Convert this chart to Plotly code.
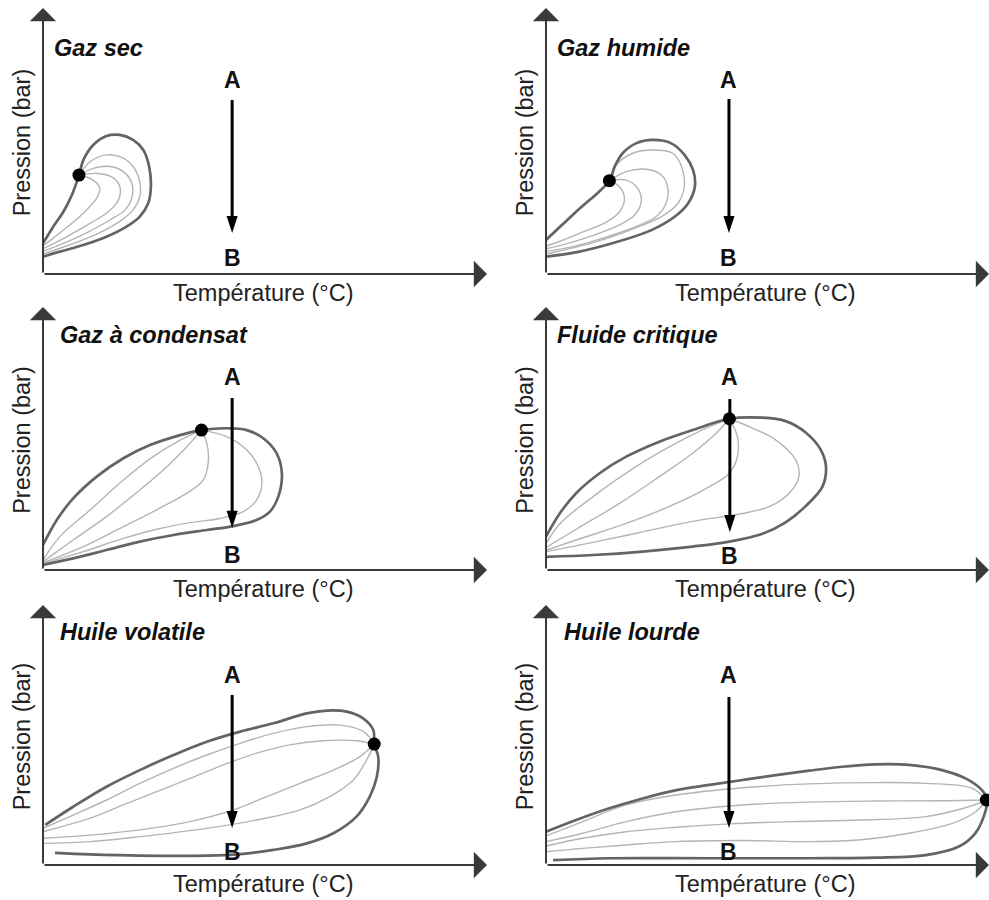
import plotly.graph_objects as go

# ------------------------------------------------------------------
# Data (schematic, arbitrary units: temperature 0-100, pressure 0-100)
# ------------------------------------------------------------------
panel_titles = ["Gaz sec", "Gaz humide", "Gaz à condensat",
                "Fluide critique", "Huile volatile", "Huile lourde"]
x_label = "Température (°C)"
y_label = "Pression (bar)"

# --- Gaz sec ---
gs_env = [(0, 11.5), (2.3, 17.8), (4.6, 23.4), (6.5, 29.7), (8.1, 37.2), (9.1, 42.9),
          (11.3, 48.5), (14.3, 51.9), (17.3, 52.3), (20.3, 50.4), (22.6, 46.6), (23.9, 40.4),
          (24.3, 32.8), (23.7, 26.6), (21.8, 21.6), (18.8, 17.8), (14.3, 14.0), (9.1, 10.9),
          (3.8, 8.4), (0, 6.5)]
gs_q1 = [(8.1, 37.2), (10.6, 42.2), (14.0, 44.7), (17.3, 44.1), (20.0, 41.0), (21.7, 35.3),
         (21.8, 29.1), (20.3, 24.1), (17.3, 19.8), (12.1, 15.0), (6.1, 11.0), (0, 7.5)]
gs_q2 = [(8.1, 37.2), (11.3, 39.7), (15.1, 40.4), (18.1, 38.5), (20.0, 34.1), (20.0, 28.5),
         (18.5, 24.1), (15.1, 20.3), (9.8, 15.5), (4.6, 11.5), (0, 8.5)]
gs_q3 = [(8.1, 37.2), (12.1, 37.8), (15.5, 36.5), (17.3, 32.8), (17.0, 27.8), (14.7, 23.4),
         (10.6, 19.0), (5.3, 14.0), (0, 9.5)]
gs_q4 = [(8.1, 37.2), (11.3, 35.3), (12.8, 32.2), (12.1, 28.5), (9.8, 24.1), (6.1, 18.5),
         (2.3, 13.5), (0, 10.5)]
gs_crit = (8.1, 37.2)

# --- Gaz humide ---
gh_env = [(0, 12.8), (6.8, 23.4), (14.3, 35.1), (15.5, 40.4), (17.3, 45.4), (20.3, 49.1),
          (24.1, 50.4), (28.3, 49.1), (31.3, 44.7), (33.2, 39.1), (33.6, 32.8), (32.1, 26.6),
          (29.1, 21.6), (23.8, 16.5), (16.3, 12.2), (7.0, 8.2), (0, 6.5)]
gh_q1 = [(14.3, 35.1), (16.2, 41.6), (19.6, 45.4), (24.1, 46.6), (28.6, 45.4), (30.6, 40.4),
         (31.2, 32.8), (29.8, 26.6), (26.1, 21.6), (20.0, 17.2), (11.0, 12.0), (0, 7.5)]
gh_q2 = [(14.3, 35.1), (18.1, 38.5), (22.6, 39.4), (26.0, 37.3), (27.5, 32.3), (27.1, 26.6),
         (24.9, 21.6), (20.3, 17.8), (12.8, 13.5), (6.1, 10.3), (0, 8.5)]
gh_q3 = [(14.3, 35.1), (18.1, 35.3), (20.7, 32.2), (21.5, 27.2), (20.0, 22.2), (16.6, 18.5),
         (10.6, 14.5), (4.6, 11.3), (0, 9.5)]
gh_q4 = [(14.3, 35.1), (16.6, 32.8), (17.7, 28.4), (16.6, 23.4), (13.6, 19.5), (8.3, 15.8),
         (3.1, 12.3), (0, 10.5)]
gh_crit = (14.3, 35.1)

# --- Gaz à condensat ---
gac_env = [(0, 9.5), (3.1, 19.0), (6.8, 27.2), (12.1, 35.5), (18.1, 42.5), (24.1, 47.5),
           (30.9, 51.3), (35.7, 53.2), (41.4, 53.9), (45.9, 53.2), (49.6, 50.1), (52.6, 44.4),
           (53.8, 36.8), (53.0, 27.9), (51.1, 22.2), (48.1, 19.0), (42.9, 16.7), (36.9, 15.2),
           (29.4, 13.3), (21.8, 10.8), (14.3, 7.6), (6.8, 4.4), (0, 1.9)]
gac_q1 = [(35.7, 53.2), (41.4, 50.7), (45.9, 45.6), (48.5, 39.3), (49.3, 33.0), (48.1, 26.6),
          (45.1, 22.2), (39.9, 19.6), (33.1, 18.0), (25.6, 15.5), (18.1, 12.0), (9.1, 7.0), (0, 2.5)]
gac_q2 = [(35.7, 53.2), (36.9, 48.2), (37.2, 40.6), (36.1, 34.2), (32.4, 29.2), (25.6, 22.9),
          (18.1, 16.5), (9.1, 8.9), (0, 2.8)]
gac_q3 = [(35.7, 53.2), (32.4, 46.9), (27.9, 39.3), (21.8, 30.4), (14.3, 20.3), (6.8, 11.4), (0, 3.2)]
gac_q4 = [(35.7, 53.2), (30.9, 49.4), (24.8, 43.1), (18.1, 34.2), (10.6, 22.8), (3.8, 12.7), (0, 3.8)]
gac_crit = (35.7, 53.2)

# --- Fluide critique ---
fc_env = [(0, 12.7), (3.1, 21.5), (6.8, 29.2), (12.1, 36.8), (18.1, 43.1), (25.6, 48.8),
          (33.1, 53.2), (41.4, 57.5), (48.9, 57.9), (54.1, 56.6), (58.6, 52.3), (62.0, 45.8),
          (63.2, 39.4), (62.4, 31.7), (58.5, 24.1), (54.0, 18.0), (48.9, 13.8), (41.4, 10.8),
          (33.1, 8.9), (21.8, 7.0), (10.6, 5.7), (0, 5.0)]
fc_q1 = [(41.4, 57.5), (45.9, 54.5), (51.9, 49.4), (56.4, 41.8), (57.1, 35.5), (54.9, 29.2),
         (50.4, 24.1), (44.4, 21.5), (33.1, 18.5), (21.8, 14.5), (10.6, 10.5), (0, 7.0)]
fc_q2 = [(41.4, 57.5), (43.2, 50.7), (43.2, 43.1), (41.4, 36.8), (36.9, 31.7), (29.4, 25.3),
         (18.1, 17.7), (6.8, 11.4), (0, 7.5)]
fc_q3 = [(41.4, 57.5), (38.4, 52.0), (33.1, 44.4), (25.6, 35.5), (16.6, 25.3), (6.8, 15.5), (0, 8.5)]
fc_q4 = [(41.4, 57.5), (36.9, 54.5), (29.4, 48.2), (20.3, 39.3), (10.6, 27.9), (3.1, 17.5), (0, 10.0)]
fc_crit = (41.4, 57.5)

# --- Huile volatile ---
hv_env = [(0.5, 15.4), (6.8, 22.4), (14.3, 30.1), (21.8, 36.5), (29.4, 42.3), (36.9, 47.4),
          (44.4, 51.3), (51.9, 54.5), (59.4, 58.3), (63.9, 59.4), (68.4, 59.0), (72.1, 56.4),
          (74.4, 51.9), (74.6, 46.5), (75.5, 41.7), (75.2, 34.0), (73.6, 26.3), (70.6, 18.6),
          (65.4, 12.2), (59.4, 8.3), (51.9, 5.8), (44.4, 4.2), (36.9, 3.6), (21.8, 3.6),
          (10.6, 4.1), (2.7, 4.7)]
hv_q1 = [(74.6, 46.5), (72.2, 51.3), (66.9, 53.8), (59.4, 53.2), (51.9, 50.6), (44.4, 46.8),
         (36.9, 42.3), (29.4, 37.2), (21.8, 31.4), (14.3, 25.0), (6.8, 19.2), (0, 14.1)]
hv_q2 = [(74.6, 46.5), (70.7, 47.8), (63.1, 47.8), (55.6, 46.2), (48.1, 43.0), (40.6, 38.5),
         (33.1, 33.3), (25.6, 28.2), (18.1, 23.1), (10.6, 18.0), (0, 12.8)]
hv_q3 = [(74.6, 46.5), (71.4, 41.7), (65.4, 36.5), (57.9, 31.4), (50.4, 26.3), (42.9, 21.2),
         (33.1, 16.7), (21.8, 13.5), (10.6, 11.5), (0, 10.3)]
hv_q4 = [(74.6, 46.5), (72.9, 40.4), (69.9, 32.7), (64.6, 26.3), (57.9, 21.2), (48.1, 17.3),
         (36.9, 14.1), (21.8, 10.9), (10.6, 9.0), (0, 8.3)]
hv_crit = (74.6, 46.5)

# --- Huile lourde ---
hl_env = [(0, 12.8), (6.8, 17.3), (14.3, 21.8), (21.8, 25.6), (29.4, 28.8), (36.9, 30.8),
          (44.4, 32.7), (51.9, 34.6), (59.4, 36.3), (66.9, 37.8), (74.4, 38.7), (81.9, 38.5),
          (89.4, 36.5), (94.7, 33.3), (98.4, 28.8), (99.6, 25.0), (98.8, 18.6), (96.9, 12.2),
          (93.2, 7.1), (85.7, 3.8), (74.4, 2.8), (59.4, 2.6), (36.9, 2.6), (14.3, 2.6), (1.6, 1.9)]
hl_q1 = [(99.4, 25.0), (96.2, 29.5), (85.7, 31.4), (74.4, 31.7), (59.4, 31.2), (44.4, 29.7),
         (29.4, 26.9), (18.1, 23.1), (8.3, 16.7), (0, 11.2)]
hl_q2 = [(99.4, 25.0), (89.4, 24.7), (74.4, 24.6), (59.4, 24.2), (44.4, 23.1), (29.4, 20.5),
         (18.1, 16.7), (8.3, 12.2), (0, 9.0)]
hl_q3 = [(99.4, 25.0), (95.4, 22.4), (85.7, 18.6), (70.6, 17.3), (55.6, 16.7), (41.4, 15.8),
         (29.4, 14.5), (18.1, 12.8), (8.3, 10.3), (0, 7.3)]
hl_q4 = [(99.4, 25.0), (97.0, 20.5), (91.7, 16.0), (81.9, 12.2), (70.6, 9.6), (59.4, 9.0),
         (44.4, 9.4), (29.4, 9.0), (18.1, 7.7), (8.3, 6.4), (0, 5.1)]
hl_crit = (99.4, 25.0)

# Isothermal depletion path A -> B: temperature, P(A), P(B)
path_T = [42.6, 41.3, 42.6, 41.5, 42.6, 41.3]
path_P_start = [65.4, 65.8, 65.4, 65.0, 65.4, 64.6]
path_P_end = [15.4, 15.4, 16.0, 14.4, 14.2, 14.2]
label_A_P = [72.9, 72.9, 73.4, 73.4, 73.1, 73.1]
label_B_P = [6.0, 6.0, 5.7, 5.3, 5.0, 5.0]
title_T = [2.0, 2.0, 3.4, 2.0, 3.4, 3.6]
title_P = [85.0, 85.0, 89.4, 89.4, 89.6, 89.6]

envelopes = [gs_env, gh_env, gac_env, fc_env, hv_env, hl_env]
quality_lines = [[gs_q1, gs_q2, gs_q3, gs_q4], [gh_q1, gh_q2, gh_q3, gh_q4],
                 [gac_q1, gac_q2, gac_q3, gac_q4], [fc_q1, fc_q2, fc_q3, fc_q4],
                 [hv_q1, hv_q2, hv_q3, hv_q4], [hl_q1, hl_q2, hl_q3, hl_q4]]
crit_points = [gs_crit, gh_crit, gac_crit, fc_crit, hv_crit, hl_crit]

# ------------------------------------------------------------------
# Layout / styling  (body margin removed -> figure fills the 989 x 900 page)
# ------------------------------------------------------------------
W, H = 989, 900
col_x = [(43 / W, 487 / W), (546 / W, 1.0)]
row_y = [(1 - 274 / H, 1 - 8 / H), (1 - 570 / H, 1 - 307 / H), (1 - 865 / H, 1 - 605 / H)]

FONT = "Liberation Sans, Arial, Helvetica, sans-serif"
AXIS_COLOR = "#3a3a3a"
ENV_COLOR = "#646464"
Q_COLOR = "#b4b4b4"

fig = go.Figure()
layout_axes = {}
annotations = []

for i in range(6):
    r, c = divmod(i, 2)
    sfx = "" if i == 0 else str(i + 1)
    xa, ya = "x" + sfx, "y" + sfx
    layout_axes["xaxis" + sfx] = dict(domain=list(col_x[c]), range=[0, 100], visible=False,
                                      anchor=ya, fixedrange=True)
    layout_axes["yaxis" + sfx] = dict(domain=list(row_y[r]), range=[0, 100], visible=False,
                                      anchor=xa, fixedrange=True)

    # quality lines
    for q in quality_lines[i]:
        fig.add_trace(go.Scatter(x=[p[0] for p in q], y=[p[1] for p in q], mode="lines",
                                 line=dict(color=Q_COLOR, width=1.4, shape="spline", smoothing=1.0),
                                 xaxis=xa, yaxis=ya, hoverinfo="skip", showlegend=False))
    # phase envelope
    env = envelopes[i]
    fig.add_trace(go.Scatter(x=[p[0] for p in env], y=[p[1] for p in env], mode="lines",
                             line=dict(color=ENV_COLOR, width=2.7, shape="spline", smoothing=1.0),
                             xaxis=xa, yaxis=ya, hoverinfo="skip", showlegend=False))
    # A -> B path (shaft + arrow head)
    T = path_T[i]
    fig.add_trace(go.Scatter(x=[T, T], y=[path_P_start[i], path_P_end[i] + 3], mode="lines",
                             line=dict(color="black", width=3),
                             xaxis=xa, yaxis=ya, hoverinfo="skip", showlegend=False))
    fig.add_trace(go.Scatter(x=[T], y=[path_P_end[i]], mode="markers",
                             marker=dict(symbol="arrow", size=18, angle=180, color="black",
                                         line=dict(width=0)),
                             xaxis=xa, yaxis=ya, hoverinfo="skip", showlegend=False))
    # critical point
    cp = crit_points[i]
    fig.add_trace(go.Scatter(x=[cp[0]], y=[cp[1]], mode="markers",
                             marker=dict(symbol="circle", size=13, color="black"),
                             xaxis=xa, yaxis=ya, hoverinfo="skip", showlegend=False))

    # axes drawn as arrows
    for hx, hy in [(100, 0), (0, 100)]:
        annotations.append(dict(x=hx, y=hy, ax=0, ay=0, xref=xa, yref=ya, axref=xa, ayref=ya,
                                text="", showarrow=True, arrowhead=1, arrowsize=2.2,
                                arrowwidth=2, arrowcolor=AXIS_COLOR, standoff=0))
    # labels A / B
    annotations.append(dict(x=T, y=label_A_P[i], xref=xa, yref=ya, text="<b>A</b>",
                            showarrow=False, font=dict(family=FONT, size=23, color="#111"),
                            xanchor="center", yanchor="middle"))
    annotations.append(dict(x=T, y=label_B_P[i], xref=xa, yref=ya, text="<b>B</b>",
                            showarrow=False, font=dict(family=FONT, size=23, color="#111"),
                            xanchor="center", yanchor="middle"))
    # panel title
    annotations.append(dict(x=title_T[i], y=title_P[i], xref=xa, yref=ya,
                            text="<b><i>" + panel_titles[i] + "</i></b>", showarrow=False,
                            font=dict(family=FONT, size=23.5, color="#111"),
                            xanchor="left", yanchor="middle"))
    # axis labels
    annotations.append(dict(x=0.495, y=0, xref=xa + " domain", yref=ya + " domain",
                            text=x_label, showarrow=False, yshift=-19,
                            font=dict(family=FONT, size=23.5, color="#222"),
                            xanchor="center", yanchor="middle"))
    annotations.append(dict(x=0, y=0.495, xref=xa + " domain", yref=ya + " domain",
                            text=y_label, showarrow=False, xshift=-21, textangle=-90,
                            font=dict(family=FONT, size=23.5, color="#222"),
                            xanchor="center", yanchor="middle"))

fig.update_layout(width=W, height=H, autosize=False,
                  margin=dict(l=0, r=0, t=0, b=0),
                  paper_bgcolor="white", plot_bgcolor="rgba(0,0,0,0)",
                  showlegend=False, hovermode=False,
                  annotations=annotations, **layout_axes)

fig.write_html("out.html",
               config={"displayModeBar": False, "staticPlot": True},
               post_script="document.body.style.margin='0px';"
                           "document.documentElement.style.overflow='hidden';")
